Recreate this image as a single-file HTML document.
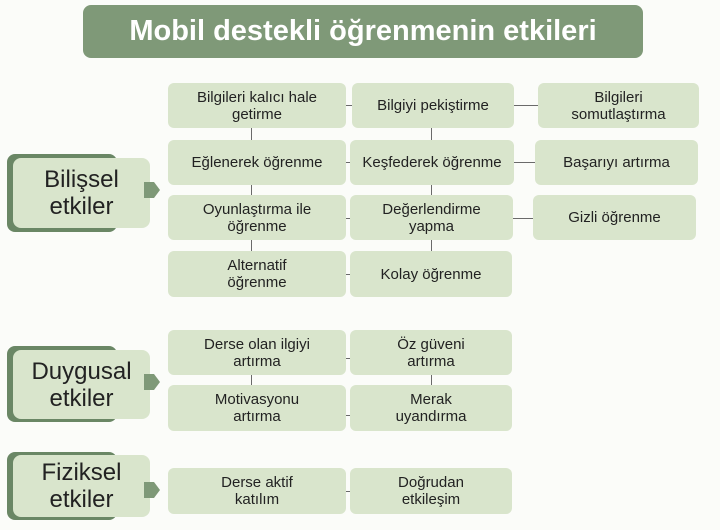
<!DOCTYPE html>
<html><head><meta charset="utf-8"><style>
body{margin:0;width:720px;height:530px;background:#fbfcf9;position:relative;overflow:hidden;font-family:"Liberation Sans","DejaVu Sans",sans-serif;}
.b{position:absolute;background:#d9e5cc;border-radius:6px;display:flex;align-items:center;justify-content:center;text-align:center;font-size:15px;line-height:17px;color:#222;}
.l{position:absolute;background:#6a6a6a;}
.title{position:absolute;left:83px;top:5px;width:560px;height:53px;background:#7f9978;border-radius:8px;color:#fff;font-weight:bold;font-size:29px;display:flex;align-items:center;justify-content:center;}
.cd{position:absolute;background:#6a8765;border-radius:8px;}
.cl{position:absolute;background:#d9e5cc;border-radius:8px;font-size:24px;line-height:27px;color:#222;display:flex;align-items:center;justify-content:center;text-align:center;}
.tab{position:absolute;width:0;height:0;}
.tr{position:absolute;background:#7f9978;}
</style></head><body>
<div class="title">Mobil destekli öğrenmenin etkileri</div>

<div class="cd" style="left:7px;top:154px;width:110px;height:78px"></div>
<div class="cl" style="left:13px;top:158px;width:137px;height:70px">Bilişsel<br>etkiler</div>
<div class="tr" style="left:144px;top:182px;width:10px;height:16px"></div>
<div class="tab" style="left:154px;top:182px;border-top:8px solid transparent;border-bottom:8px solid transparent;border-left:6px solid #7f9978"></div>

<div class="cd" style="left:7px;top:346px;width:110px;height:76px"></div>
<div class="cl" style="left:13px;top:350px;width:137px;height:69px">Duygusal<br>etkiler</div>
<div class="tr" style="left:144px;top:374px;width:10px;height:16px"></div>
<div class="tab" style="left:154px;top:374px;border-top:8px solid transparent;border-bottom:8px solid transparent;border-left:6px solid #7f9978"></div>

<div class="cd" style="left:7px;top:452px;width:110px;height:68px"></div>
<div class="cl" style="left:13px;top:455px;width:137px;height:62px">Fiziksel<br>etkiler</div>
<div class="tr" style="left:144px;top:482px;width:10px;height:16px"></div>
<div class="tab" style="left:154px;top:482px;border-top:8px solid transparent;border-bottom:8px solid transparent;border-left:6px solid #7f9978"></div>

<div class="l" style="left:346px;top:105px;width:6px;height:1px"></div>
<div class="l" style="left:514px;top:105px;width:24px;height:1px"></div>
<div class="l" style="left:346px;top:162px;width:4px;height:1px"></div>
<div class="l" style="left:514px;top:162px;width:21px;height:1px"></div>
<div class="l" style="left:346px;top:218px;width:4px;height:1px"></div>
<div class="l" style="left:513px;top:218px;width:20px;height:1px"></div>
<div class="l" style="left:346px;top:274px;width:4px;height:1px"></div>
<div class="l" style="left:251px;top:128px;width:1px;height:12px"></div>
<div class="l" style="left:251px;top:185px;width:1px;height:10px"></div>
<div class="l" style="left:251px;top:240px;width:1px;height:11px"></div>
<div class="l" style="left:431px;top:128px;width:1px;height:12px"></div>
<div class="l" style="left:431px;top:185px;width:1px;height:10px"></div>
<div class="l" style="left:431px;top:240px;width:1px;height:11px"></div>
<div class="l" style="left:346px;top:358px;width:4px;height:1px"></div>
<div class="l" style="left:346px;top:415px;width:4px;height:1px"></div>
<div class="l" style="left:251px;top:375px;width:1px;height:10px"></div>
<div class="l" style="left:431px;top:375px;width:1px;height:10px"></div>
<div class="l" style="left:346px;top:491px;width:4px;height:1px"></div>

<div class="b" style="left:168px;top:83px;width:178px;height:45px">Bilgileri kalıcı hale<br>getirme</div>
<div class="b" style="left:352px;top:83px;width:162px;height:45px">Bilgiyi pekiştirme</div>
<div class="b" style="left:538px;top:83px;width:161px;height:45px">Bilgileri<br>somutlaştırma</div>
<div class="b" style="left:168px;top:140px;width:178px;height:45px">Eğlenerek öğrenme</div>
<div class="b" style="left:350px;top:140px;width:164px;height:45px">Keşfederek öğrenme</div>
<div class="b" style="left:535px;top:140px;width:163px;height:45px">Başarıyı artırma</div>
<div class="b" style="left:168px;top:195px;width:178px;height:45px">Oyunlaştırma ile<br>öğrenme</div>
<div class="b" style="left:350px;top:195px;width:163px;height:45px">Değerlendirme<br>yapma</div>
<div class="b" style="left:533px;top:195px;width:163px;height:45px">Gizli öğrenme</div>
<div class="b" style="left:168px;top:251px;width:178px;height:46px">Alternatif<br>öğrenme</div>
<div class="b" style="left:350px;top:251px;width:162px;height:46px">Kolay öğrenme</div>

<div class="b" style="left:168px;top:330px;width:178px;height:45px">Derse olan ilgiyi<br>artırma</div>
<div class="b" style="left:350px;top:330px;width:162px;height:45px">Öz güveni<br>artırma</div>
<div class="b" style="left:168px;top:385px;width:178px;height:46px">Motivasyonu<br>artırma</div>
<div class="b" style="left:350px;top:385px;width:162px;height:46px">Merak<br>uyandırma</div>

<div class="b" style="left:168px;top:468px;width:178px;height:46px">Derse aktif<br>katılım</div>
<div class="b" style="left:350px;top:468px;width:162px;height:46px">Doğrudan<br>etkileşim</div>
</body></html>
